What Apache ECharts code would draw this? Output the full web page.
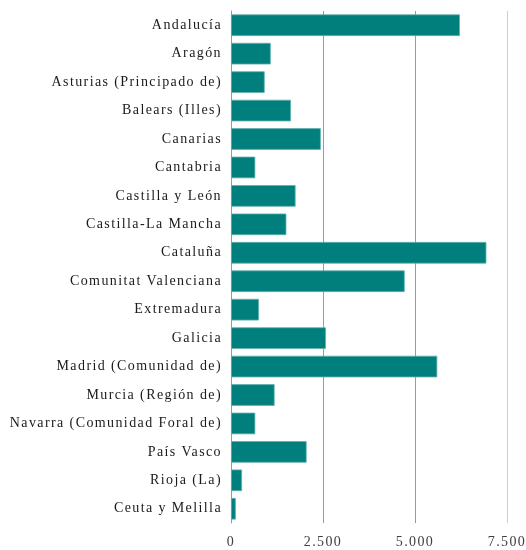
<!DOCTYPE html>
<html>
<head>
<meta charset="utf-8">
<script src="https://cdn.jsdelivr.net/npm/echarts@6/dist/echarts.min.js"></script>
<style>html,body{margin:0;padding:0;background:#fff}#c{width:526px;height:550px}</style>
</head>
<body>
<div id="c"></div>
<script>
const categories = ['Andalucía','Aragón','Asturias (Principado de)','Balears (Illes)','Canarias','Cantabria','Castilla y León','Castilla-La Mancha','Cataluña','Comunitat Valenciana','Extremadura','Galicia','Madrid (Comunidad de)','Murcia (Región de)','Navarra (Comunidad Foral de)','País Vasco','Rioja (La)','Ceuta y Melilla'];
const values = [6220, 1080, 915, 1630, 2440, 660, 1755, 1505, 6940, 4720, 760, 2580, 5605, 1185, 660, 2055, 300, 130];
const xTicks = [0, 2500, 5000, 7500];

// widen letter spacing of drawn text to resemble the reference typeface
(function () {
  const proto = CanvasRenderingContext2D.prototype;
  const origFill = proto.fillText;
  proto.fillText = function () {
    if ('letterSpacing' in this) this.letterSpacing = '1.4px';
    const r = origFill.apply(this, arguments);
    if ('letterSpacing' in this) this.letterSpacing = '0px';
    return r;
  };
})();

const chart = echarts.init(document.getElementById('c'), null, {renderer:'canvas'});
const font = '"Liberation Serif", serif';
chart.setOption({
  animation: false,
  grid: {left: 231, right: 19, top: 11, bottom: 27, containLabel: false},
  xAxis: {
    type: 'value', min: 0, max: 7500, interval: 2500,
    axisLine: {show: false}, axisTick: {show: false},
    splitLine: {show: true, lineStyle: {color: ['#ffffff', '#9a9a9a', '#9a9a9a', '#cfcfcf'], width: 1}},
    axisLabel: {
      color: '#404040', fontFamily: font, fontSize: 14, margin: 12,
      formatter: v => xTicks.includes(v) ? v.toLocaleString('de-DE') : ''
    }
  },
  yAxis: {
    type: 'category', data: categories, inverse: true,
    axisLine: {show: true, lineStyle: {color: '#9a9a9a', width: 1}},
    axisTick: {show: false},
    axisLabel: {color: '#1a1a1a', fontFamily: font, fontSize: 14, margin: 9}
  },
  series: [{
    type: 'bar', data: values, barCategoryGap: '24%',
    itemStyle: {color: '#007f7d', borderColor: '#5fb3b0', borderWidth: 0.8}
  }]
});
</script>
</body>
</html>
